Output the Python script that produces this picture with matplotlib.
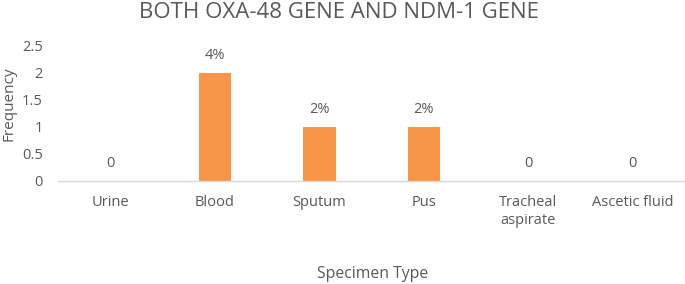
import matplotlib
matplotlib.use("Agg")
import matplotlib.pyplot as plt

# data
specimens = ["Urine", "Blood", "Sputum", "Pus", "Tracheal\naspirate", "Ascetic fluid"]
frequency = [0, 2, 1, 1, 0, 0]
bar_labels = ["0", "4%", "2%", "2%", "0", "0"]
y_ticks = [0, 0.5, 1, 1.5, 2, 2.5]
y_ticklabels = ["0", "0.5", "1", "1.5", "2", "2.5"]

TXT = "#595959"
plt.rcParams["font.family"] = ["Open Sans", "DejaVu Sans"]

fig = plt.figure(figsize=(6.85, 2.84), dpi=100)
ax = fig.add_axes([0.085, 0.3627, 0.915, 0.4754])

x = list(range(len(specimens)))
ax.bar(x, frequency, width=0.31, color="#F79646", zorder=2)

for xi, v, lab in zip(x, frequency, bar_labels):
    ax.annotate(lab, (xi, v), xytext=(0, 7), textcoords="offset points",
                ha="center", va="bottom", fontsize=10.5, color=TXT)

ax.set_xlim(-0.5, len(specimens) - 0.5)
ax.set_ylim(0, 2.5)
ax.set_yticks(y_ticks)
ax.set_yticklabels(y_ticklabels)
ax.set_xticks(x)
ax.set_xticklabels(specimens, linespacing=1.3)
ax.tick_params(axis="both", length=0, labelsize=10.5, labelcolor=TXT)
ax.tick_params(axis="y", pad=11)
ax.tick_params(axis="x", pad=10)

for side in ["top", "right", "left"]:
    ax.spines[side].set_visible(False)
ax.spines["bottom"].set_color("#D9D9D9")
ax.spines["bottom"].set_linewidth(1)

# axis titles placed in figure coords to match the reference layout
fig.text(0.013, 0.634, "Frequency", rotation=90, ha="center", va="center",
         fontsize=11, color=TXT)
fig.text(0.544, 0.035, "Specimen Type", ha="center", va="center", fontsize=11.3, color=TXT)
fig.text(0.495, 0.993, "BOTH OXA-48 GENE AND NDM-1 GENE", ha="center", va="top",
         fontsize=16, color=TXT)

fig.savefig("out.png", dpi=100)
